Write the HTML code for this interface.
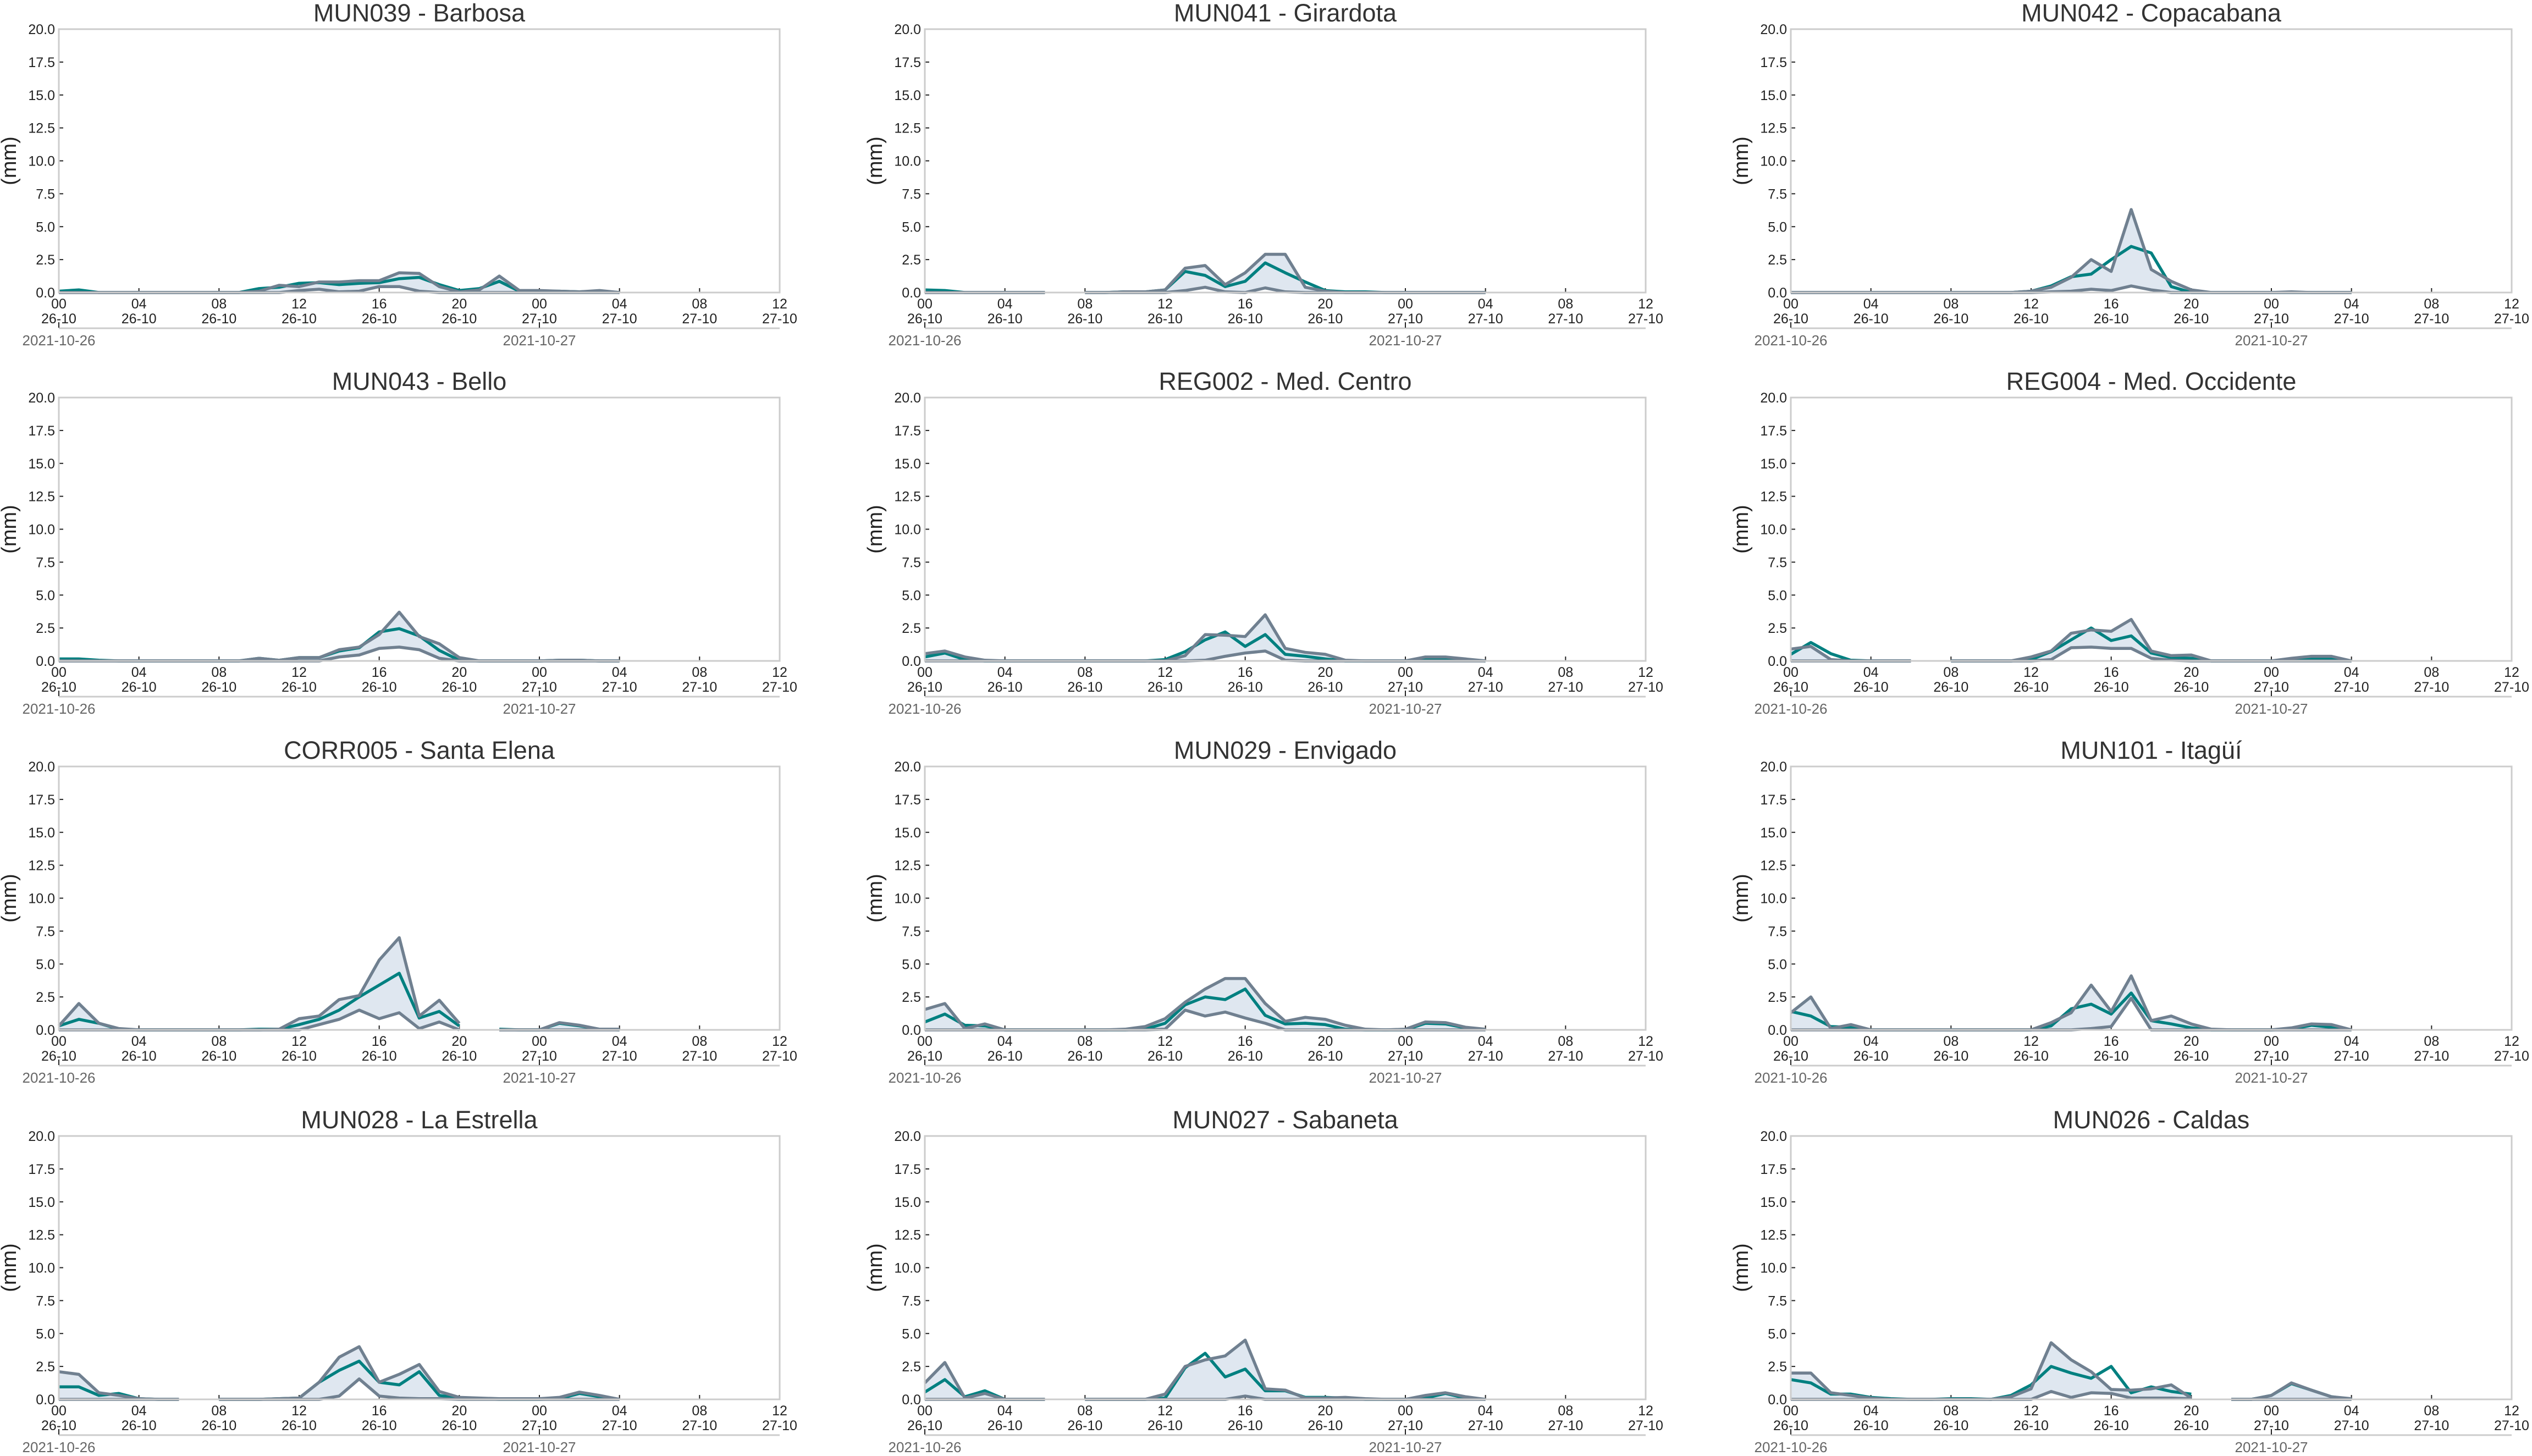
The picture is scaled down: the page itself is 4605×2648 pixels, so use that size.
<!DOCTYPE html>
<html><head><meta charset="utf-8"><style>
html,body{margin:0;padding:0;background:#fff}
svg{display:block}
text{font-family:"Liberation Sans",sans-serif}
</style></head><body>
<svg id="chart" xmlns="http://www.w3.org/2000/svg" width="4605" height="2648" viewBox="0 0 4605 2648"></svg>
<script>
const titles=["MUN039 - Barbosa","MUN041 - Girardota","MUN042 - Copacabana","MUN043 - Bello","REG002 - Med. Centro","REG004 - Med. Occidente","CORR005 - Santa Elena","MUN029 - Envigado","MUN101 - Itagüí","MUN028 - La Estrella","MUN027 - Sabaneta","MUN026 - Caldas"];
const yTicks=["0.0","2.5","5.0","7.5","10.0","12.5","15.0","17.5","20.0"];
const xHourTicks=["00","04","08","12","16","20","00","04","08","12"];
const xDayTicks=["26-10","26-10","26-10","26-10","26-10","26-10","27-10","27-10","27-10","27-10"];
const dateLabels=["2021-10-26","2021-10-27"];
const N=null;
const meanSeries=[
[0.1,0.2,0,0,0,0,0,0,0,0,0.3,0.4,0.7,0.75,0.6,0.7,0.75,1.05,1.15,0.6,0.15,0.3,0.85,0.1,0.1,0.1,0.05,0.1,0],
[0.2,0.15,0,0,0,0,0,N,0,0,0.05,0.05,0.2,1.6,1.3,0.45,0.85,2.25,1.5,0.8,0.15,0.05,0.05,0,0,0,0,0,0],
[0,0,0,0,0,0,0,0,0,0,0,0,0.1,0.5,1.2,1.4,2.5,3.5,3.0,0.45,0,0,0,0,0,0,0,0,0],
[0.15,0.15,0.05,0,0,0,0,0,0,0,0.2,0.05,0.25,0.25,0.75,1.0,2.2,2.45,1.9,0.8,0.05,0,0,0,0,0.05,0.05,0,0],
[0.3,0.6,0.1,0,0,0,0,0,0,0,0,0,0.1,0.7,1.6,2.2,1.1,2.0,0.5,0.35,0.15,0,0,0,0,0.2,0.2,0.1,0],
[0.5,1.4,0.55,0.05,0,0,0,N,0,0,0,0,0.1,0.7,1.6,2.5,1.55,1.9,0.6,0.25,0.2,0,0,0,0,0.1,0.2,0.15,0],
[0.3,0.8,0.5,0.05,0,0,0,0,0,0,0.05,0.05,0.4,0.8,1.5,2.5,3.4,4.3,0.9,1.4,0.3,N,0.05,0,0,0.5,0.3,0.05,0],
[0.6,1.2,0.35,0.3,0,0,0,0,0,0,0,0.05,0.5,1.9,2.5,2.3,3.1,1.1,0.45,0.5,0.4,0.05,0,0,0,0.5,0.45,0.15,0],
[1.4,1.05,0.25,0.2,0,0,0,0,0,0,0,0,0,0.3,1.6,1.95,1.2,2.8,0.7,0.45,0.15,0,0,0,0,0.05,0.35,0.2,0],
[0.95,0.95,0.3,0.45,0.05,0,0,N,0,0,0,0.05,0.1,1.3,2.2,2.9,1.3,1.1,2.1,0.3,0.1,0.05,0,0,0,0.05,0.45,0.2,0],
[0.55,1.5,0.2,0.65,0,0,0,N,0,0,0,0,0.1,2.4,3.5,1.7,2.3,0.65,0.65,0.15,0.15,0.1,0,0,0,0.1,0.45,0.1,0],
[1.5,1.25,0.4,0.4,0.15,0.05,0,0,0.05,0.05,0,0.3,1.1,2.5,2.0,1.6,2.5,0.5,0.95,0.6,0.4,N,0,0,0.3,1.2,0.7,0.2,0]
];
const maxSeries=[
[0,0,0,0,0,0,0,0,0,0,0.1,0.55,0.45,0.8,0.8,0.9,0.9,1.5,1.45,0.45,0.05,0.2,1.25,0.15,0.15,0.1,0.05,0.15,0],
[0,0,0,0,0,0,0,N,0,0,0.05,0.05,0.2,1.85,2.05,0.6,1.5,2.9,2.9,0.4,0.1,0,0,0,0,0,0,0,0],
[0,0,0,0,0,0,0,0,0,0,0,0,0.1,0.4,1.15,2.5,1.6,6.3,1.75,0.85,0.2,0,0,0,0,0.05,0,0,0],
[0,0,0,0,0,0,0,0,0,0,0.2,0.05,0.25,0.25,0.85,1.05,2.0,3.7,1.85,1.3,0.25,0,0,0,0,0.05,0.05,0,0],
[0.55,0.75,0.3,0.05,0,0,0,0,0,0,0,0,0,0.4,2.0,1.95,1.85,3.5,0.95,0.65,0.5,0.05,0,0,0,0.3,0.3,0.15,0],
[0.9,1.1,0.1,0,0,0,0,N,0,0,0,0,0.3,0.75,2.1,2.35,2.25,3.15,0.75,0.4,0.45,0,0,0,0,0.2,0.35,0.35,0],
[0.3,2.0,0.5,0.1,0,0,0,0,0,0,0,0.05,0.85,1.05,2.3,2.6,5.3,7.0,1.05,2.25,0.5,N,0,0,0,0.55,0.35,0.05,0.05],
[1.55,2.0,0.1,0.45,0,0,0,0,0,0,0.05,0.25,0.85,2.1,3.1,3.9,3.9,2.0,0.65,0.95,0.8,0.35,0.05,0,0.05,0.6,0.55,0.2,0.05],
[1.3,2.5,0.1,0.4,0,0,0,0,0,0,0,0,0,0.55,1.3,3.4,1.4,4.1,0.7,1.05,0.45,0.05,0,0,0,0.15,0.45,0.4,0],
[2.1,1.9,0.5,0.3,0.05,0,0,N,0,0,0,0.05,0.1,1.3,3.2,4.0,1.3,1.9,2.65,0.6,0.15,0.1,0.05,0.05,0.05,0.15,0.55,0.3,0],
[1.25,2.8,0.1,0.45,0,0,0,N,0,0,0,0,0.4,2.5,3.0,3.3,4.5,0.8,0.7,0.1,0.1,0.15,0.05,0,0,0.3,0.5,0.2,0],
[2.0,2.0,0.5,0.3,0.1,0,0,0,0,0,0,0.2,0.8,4.3,3.0,2.1,0.75,0.7,0.8,1.1,0.1,N,0,0,0.3,1.25,0.7,0.2,0.05]
];
const minSeries=[
[0,0,0,0,0,0,0,0,0,0,0,0,0.15,0.25,0.05,0.1,0.45,0.45,0.1,0,0,0,0,0,0,0,0,0,0],
[0,0,0,0,0,0,0,N,0,0,0,0,0,0.15,0.4,0.05,0,0.35,0.05,0,0,0,0,0,0,0,0,0,0],
[0,0,0,0,0,0,0,0,0,0,0,0,0,0.05,0.1,0.25,0.15,0.5,0.2,0,0,0,0,0,0,0,0,0,0],
[0,0,0,0,0,0,0,0,0,0,0,0,0,0,0.3,0.45,0.95,1.05,0.85,0.2,0,0,0,0,0,0,0,0,0],
[0,0,0,0,0,0,0,0,0,0,0,0,0,0,0.05,0.35,0.6,0.75,0.05,0,0,0,0,0,0,0,0,0,0],
[0,0,0,0,0,0,0,N,0,0,0,0,0,0.1,1.0,1.05,0.95,0.95,0.2,0.05,0,0,0,0,0,0,0,0,0],
[0,0,0,0,0,0,0,0,0,0,0,0,0,0.4,0.8,1.5,0.85,1.3,0.1,0.6,0,N,0,0,0,0,0,0,0],
[0,0,0,0,0,0,0,0,0,0,0,0,0.05,1.5,1.05,1.35,0.9,0.5,0,0,0,0,0,0,0,0,0,0,0],
[0,0,0,0,0,0,0,0,0,0,0,0,0,0,0,0.1,0.25,2.4,0,0,0,0,0,0,0,0,0,0,0],
[0,0,0,0,0,0,0,N,0,0,0,0,0,0,0.25,1.55,0.25,0.1,0.05,0.05,0,0,0,0,0,0,0,0,0],
[0,0,0,0,0,0,0,N,0,0,0,0,0,0,0,0,0.25,0,0,0,0,0,0,0,0,0,0,0,0],
[0,0,0,0,0,0,0,0,0,0,0,0,0,0.6,0.15,0.5,0.45,0.1,0.1,0.1,0.05,N,0,0,0,0,0,0,0]
];

const NS="http://www.w3.org/2000/svg";
const svg=document.getElementById('chart');
function mk(tag,attrs,parent){const e=document.createElementNS(NS,tag);for(const k in attrs)e.setAttribute(k,attrs[k]);(parent||svg).appendChild(e);return e;}
const PW=1311,PH=479,X0=107,COLSTEP=1575,BOTTOMS=[532,1202,1873,2545];
const XMAX=36,YMAX=20;

function segments(arr){const segs=[];let cur=[];arr.forEach((v,i)=>{if(v===null){if(cur.length)segs.push(cur);cur=[];}else cur.push(i);});if(cur.length)segs.push(cur);return segs;}

titles.forEach((t,p)=>{
  const c=p%3,r=Math.floor(p/3);
  const x0=X0+c*COLSTEP,bot=BOTTOMS[r],top=bot-PH;
  const sx=h=>x0+h/XMAX*PW, sy=v=>bot-v/YMAX*PH;
  const g=mk('g',{});
  
  
  const tt=mk('text',{x:x0+PW/2,y:top-14,'font-size':45,'text-anchor':'middle',fill:'#333'},g);
  tt.textContent=t;
  
  
  const yl=mk('text',{x:0,y:0,'font-size':38,'text-anchor':'middle',fill:'#222',transform:`translate(${x0-78},${top+PH/2}) rotate(-90)`},g);
  yl.textContent='(mm)';
  
  
  // y ticks
  yTicks.forEach(lbl=>{
    const v=parseFloat(lbl),y=sy(v);
    mk('line',{x1:x0,x2:x0+8,y1:y,y2:y,stroke:'#222','stroke-width':2},g);
    const tx=mk('text',{x:x0-7,y:y+9,'font-size':25,'text-anchor':'end',fill:'#222'},g);
    tx.textContent=lbl;
    
    
  });
  // x ticks
  xHourTicks.forEach((lbl,i)=>{
    const x=sx(i*4);
    mk('line',{x1:x,x2:x,y1:bot,y2:bot-8,stroke:'#222','stroke-width':2},g);
    const a=mk('text',{x:x,y:bot+29,'font-size':25,'text-anchor':'middle',fill:'#222'},g);
    a.textContent=lbl;
    
    
    const b=mk('text',{x:x,y:bot+56,'font-size':25,'text-anchor':'middle',fill:'#222'},g);
    b.textContent=xDayTicks[i];
    
    
  });
  // secondary date axis
  mk('line',{x1:x0,x2:x0+PW,y1:bot+65,y2:bot+65,stroke:'#ccc','stroke-width':3},g);
  dateLabels.forEach((lbl,i)=>{
    const x=sx(i*24);
    mk('line',{x1:x,x2:x,y1:bot+64,y2:bot+54,stroke:'#222','stroke-width':2},g);
    const d=mk('text',{x:x,y:bot+96,'font-size':26,'text-anchor':'middle',fill:'#666'},g);
    d.textContent=lbl;
    
    
  });
  // series
  const mx=maxSeries[p],mn=minSeries[p],me=meanSeries[p];
  segments(mx).forEach(seg=>{
    const pts=seg.map(i=>sx(i)+','+sy(mx[i])).concat(seg.slice().reverse().map(i=>sx(i)+','+sy(mn[i])));
    const f=mk('polygon',{points:pts.join(' '),fill:'#dfe7f0',stroke:'none'},g);
    
    
  });
  const line=(arr,color,name)=>{
    segments(arr).forEach(seg=>{
      const l=mk('polyline',{points:seg.map(i=>sx(i)+','+sy(arr[i])).join(' '),fill:'none',stroke:color,'stroke-width':5.5,'stroke-linejoin':'round'},g);
      
      
    });
  };
  line(me,'#008080','mean-line');
  line(mx,'#708090','max-line');
  line(mn,'#708090','min-line');
  // frame
  const fr=mk('rect',{x:x0,y:top,width:PW,height:PH,fill:'none',stroke:'#cccccc','stroke-width':3},g);
  
  
});
</script>
</body></html>
